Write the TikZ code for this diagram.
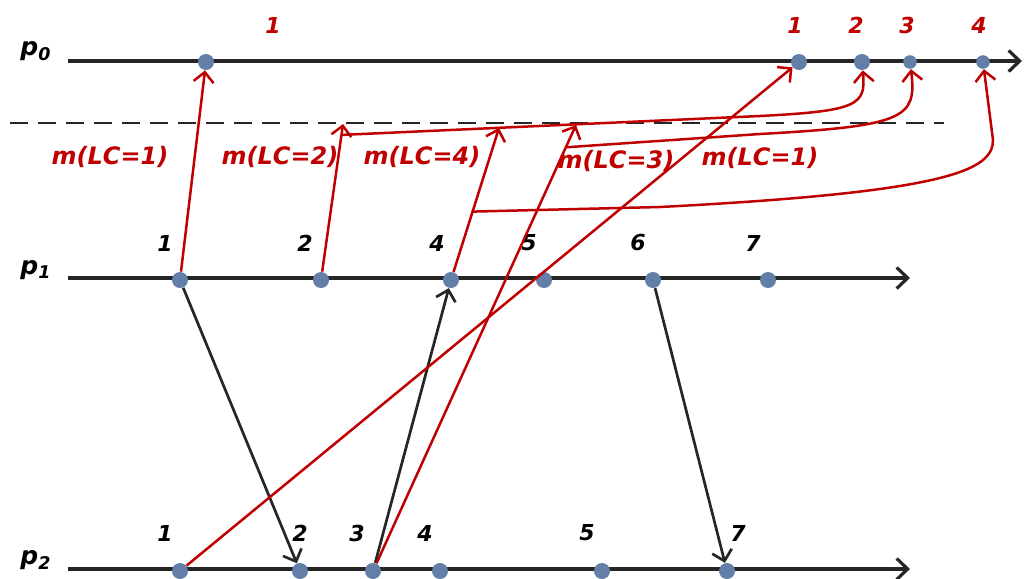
\documentclass[tikz,border=0pt]{standalone}
\usepackage{fontspec}
\setmainfont{DejaVu Sans}
\usetikzlibrary{arrows.meta,calc}
\definecolor{EventBlue}{RGB}{99,127,168}
\definecolor{MsgRed}{RGB}{192,0,0}
\definecolor{AxisGray}{RGB}{38,38,38}
\tikzset{
  timeline/.style={-{Straight Barb[length=5.5pt,width=10.5pt]},line width=1.6pt,draw=AxisGray},
  cutline/.style={line width=1.3pt,draw=AxisGray,dash pattern=on 9pt off 5pt},
  msg/.style={-{Straight Barb[length=5pt,width=10pt]},line width=1.35pt,draw=AxisGray},
  redmsg/.style={-{Straight Barb[length=5pt,width=10pt]},line width=1.25pt,draw=MsgRed},
  event/.style={circle,fill=EventBlue,inner sep=0pt,minimum size=8pt},
  smallevent/.style={event,minimum size=6.8pt},
  proc/.style={font=\fontsize{12.5}{14}\selectfont\bfseries\itshape,inner sep=0pt},
  stamp/.style={font=\fontsize{11}{13}\selectfont\bfseries\itshape,inner sep=0pt},
  redstamp/.style={stamp,text=MsgRed},
  msglabel/.style={font=\fontsize{12}{14}\selectfont\bfseries\itshape,inner sep=0pt,text=MsgRed}
}

\begin{document}
\begin{tikzpicture}[x=0.5pt,y=-0.5pt]
  \useasboundingbox (0,0) rectangle (1024,579);

  % process lines
  \node[proc] (p0) at (36,51) {p\textsubscript{0}};
  \node[proc] (p1) at (36,270) {p\textsubscript{1}};
  \node[proc] (p2) at (36,560) {p\textsubscript{2}};
  \coordinate (p0a) at (68,61);  \coordinate (p0z) at (1022,61);
  \coordinate (p1a) at (68,278); \coordinate (p1z) at (910,278);
  \coordinate (p2a) at (68,569); \coordinate (p2z) at (910,569);
  \draw[timeline] (p0a) -- (p0z);
  \draw[timeline] (p1a) -- (p1z);
  \draw[timeline] (p2a) -- (p2z);

  \coordinate (cutl) at (10,123); \coordinate (cutr) at (944,123);
  \draw[cutline] (cutl) -- (cutr);

  % events on p0
  \node[event] (p0e1) at (206,62) {};
  \node[event] (p0e5) at (799,62) {};
  \node[event] (p0e6) at (862,62) {};
  \node[smallevent] (p0e7) at (910,62) {};
  \node[smallevent] (p0e8) at (983,62) {};
  \node[redstamp] (l0e1) at (273,25) {1};
  \node[redstamp] (l0e5) at (795,25) {1};
  \node[redstamp] (l0e6) at (856,25) {2};
  \node[redstamp] (l0e7) at (907,25) {3};
  \node[redstamp] (l0e8) at (979,25) {4};

  % events on p1
  \node[event] (p1e1) at (180,280) {};
  \node[event] (p1e2) at (321,280) {};
  \node[event] (p1e4) at (451,280) {};
  \node[event] (p1e5) at (544,280) {};
  \node[event] (p1e6) at (653,280) {};
  \node[event] (p1e7) at (768,280) {};
  \node[stamp] (l1e1) at (165,243) {1};
  \node[stamp] (l1e2) at (305,243) {2};
  \node[stamp] (l1e4) at (437,243) {4};
  \node[stamp] (l1e5) at (529,243) {5};
  \node[stamp] (l1e6) at (638,243) {6};
  \node[stamp] (l1e7) at (753,243) {7};

  % events on p2
  \node[event] (p2e1) at (180,571) {};
  \node[event] (p2e2) at (300,571) {};
  \node[event] (p2e3) at (373,571) {};
  \node[event] (p2e4) at (440,571) {};
  \node[event] (p2e5) at (602,571) {};
  \node[event] (p2e7) at (727,571) {};
  \node[stamp] (l2e1) at (165,533) {1};
  \node[stamp] (l2e2) at (300,533) {2};
  \node[stamp] (l2e3) at (357,533) {3};
  \node[stamp] (l2e4) at (425,533) {4};
  \node[stamp] (l2e5) at (587,533) {5};
  \node[stamp] (l2e7) at (738,533) {7};

  % plain messages
  \draw[msg] (p1e1) -- (p2e2);
  \draw[msg] (p2e3) -- (p1e4);
  \draw[msg] (p1e6) -- (p2e7);

  % timestamped messages
  \coordinate (c2) at (343,124);
  \coordinate (c4) at (499,128);
  \coordinate (c3) at (576,125);
  \draw[redmsg] (p1e1) -- (p0e1);
  \draw[redmsg] (p1e2) -- (c2);
  \draw[redmsg] (p1e4) -- (c4);
  \draw[redmsg] (p2e3) -- (c3);
  \draw[redmsg] (p2e1) -- (p0e5);

  % delivery to p0
  \coordinate (m2b) at ($(p1e2)!0.93!(c2)$);
  \coordinate (m4b) at ($(p1e4)!0.45!(c4)$);
  \coordinate (m3b) at ($(p2e3)!0.95!(c3)$);
  \draw[redmsg] (m2b) -- (760,116) .. controls (858,111) and (866,105) .. (p0e6);
  \draw[redmsg] (m3b) -- (760,134) .. controls (905,126) and (917,118) .. (p0e7);
  \draw[redmsg] (m4b) -- (660,207) .. controls (950,192) and (993,170) .. (993,140) -- (p0e8);

  \node[msglabel] (lm1) at (110,157) {m(LC=1)};
  \node[msglabel] (lm2) at (280,157) {m(LC=2)};
  \node[msglabel] (lm4) at (422,157) {m(LC=4)};
  \node[msglabel] (lm3) at (616,161) {m(LC=3)};
  \node[msglabel] (lm5) at (760,158) {m(LC=1)};
\end{tikzpicture}
\end{document}
